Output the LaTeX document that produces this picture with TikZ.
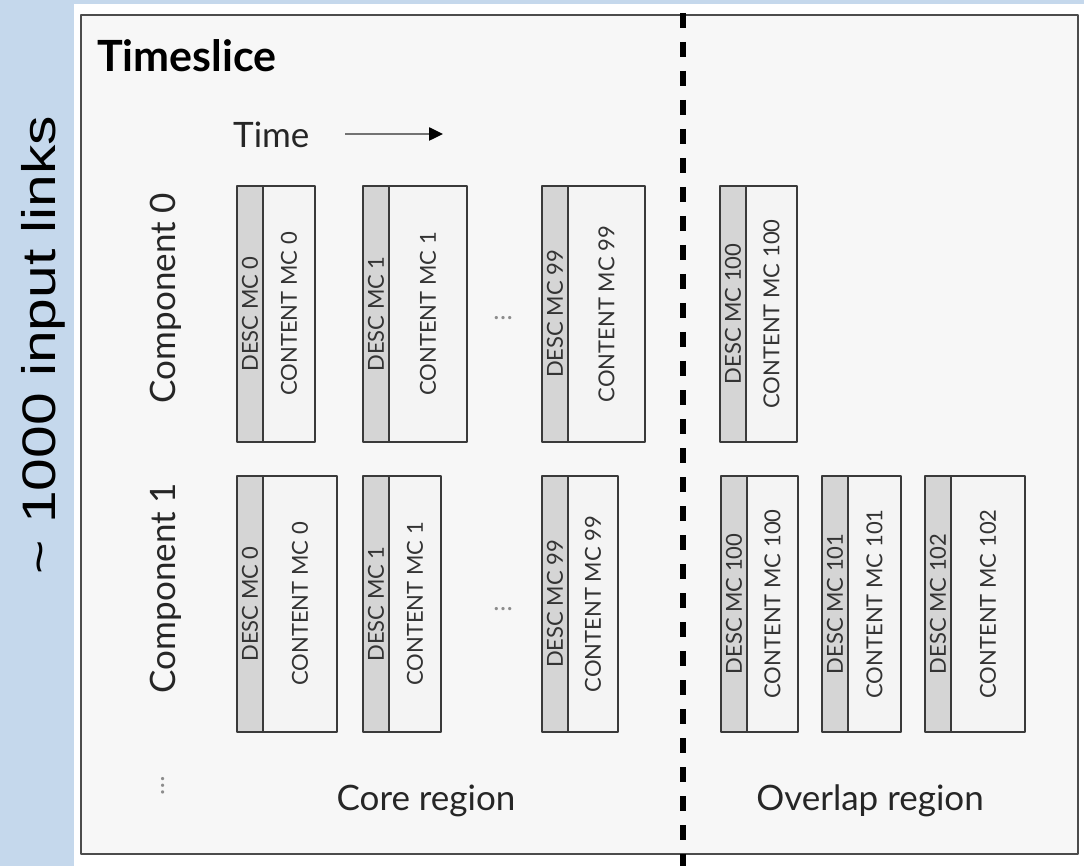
\documentclass[tikz,border=0pt]{standalone}
\usepackage{fontspec}
\setmainfont{Lato}
\newfontfamily\arialfont{Liberation Sans}
\usetikzlibrary{arrows.meta}
\definecolor{slideblue}{RGB}{197,216,236}
\definecolor{framefill}{RGB}{247,247,247}
\definecolor{descgray}{RGB}{213,213,213}
\definecolor{contgray}{RGB}{244,244,244}
\definecolor{edgegray}{RGB}{58,58,58}

\begin{document}
\begin{tikzpicture}[x=1pt,y=-1pt,line join=round,
  mcbox/.style={draw=edgegray,line width=1.6pt,rotate=90,minimum width=256pt,
    inner sep=0pt,outer sep=0pt,font=\fontsize{22}{22}\selectfont,text=black!80},
  descbox/.style={mcbox,fill=descgray,minimum height=26pt},
  contbox/.style={mcbox,fill=contgray},
  bigtext/.style={font=\fontsize{35}{35}\selectfont,text=black!85,inner sep=0pt},
  dotstext/.style={font=\fontsize{26}{26}\selectfont,text=black!45,inner sep=0pt},
  cutline/.style={line width=5.5pt,dash pattern=on 15pt off 14pt,line cap=butt},
  timearrow/.style={line width=2.5pt,draw=black!55,-{Triangle[length=14pt,width=13pt,color=black]}}]
\useasboundingbox (0,0) rectangle (1084,866);
% slide and frame
\fill[slideblue] (0,0) rectangle (1084,866);
\fill[white] (74,4) rectangle (1084,866);
\draw[draw=black!70,line width=2.5pt,fill=framefill] (81,15) rectangle (1078,854);
\node[font=\fontsize{43}{43}\selectfont\bfseries,anchor=base west,inner sep=0pt] (title) at (97,72) {Timeslice};
\node[rotate=90,anchor=base,inner sep=0pt,font=\arialfont\fontsize{47}{47}\selectfont] (links) at (55,345) {\scalebox{1.25}[1]{\textasciitilde{} 1000 input links}};

% core / overlap cut
\coordinate (cuttop) at (683,13);
\coordinate (cutbot) at (683,866);
\draw[cutline] (cuttop) -- (cutbot);

% time axis
\node[bigtext,anchor=base west] (time) at (233,148) {Time};
\coordinate (tstart) at (345,134);
\coordinate (tend) at (443,134);
\draw[timearrow] (tstart) -- (tend);

% components
\node[bigtext,rotate=90,anchor=base] (comp0) at (175,298) {Component 0};
\node[bigtext,rotate=90,anchor=base] (comp1) at (175,588) {Component 1};
\node[dotstext,rotate=90] (compdots) at (163,786) {\ldots};

% component 0
\foreach \n/\xl/\w/\k in {a/237/52/0,b/363/78/1,c/542/77/99,d/720/51/100}{
  \node[descbox] (desc0\n) at (\xl+13,314) {DESC MC \k};
  \node[contbox,minimum height=\w pt,anchor=north] (cont0\n) at (desc0\n.south) {CONTENT MC \k};
}
% component 1
\foreach \n/\xl/\w/\k in {a/237/74/0,b/363/52/1,c/542/50/99,d/721/51/100,e/822/53/101,f/925/74/102}{
  \node[descbox] (desc1\n) at (\xl+13,604) {DESC MC \k};
  \node[contbox,minimum height=\w pt,anchor=north] (cont1\n) at (desc1\n.south) {CONTENT MC \k};
}
\node[dotstext] (dots0) at (503,318) {\ldots};
\node[dotstext] (dots1) at (503,609) {\ldots};

% regions
\node[bigtext,anchor=base] (core) at (426,810) {Core region};
\node[bigtext,anchor=base] (overlap) at (870,810) {Overlap region};
\end{tikzpicture}
\end{document}
